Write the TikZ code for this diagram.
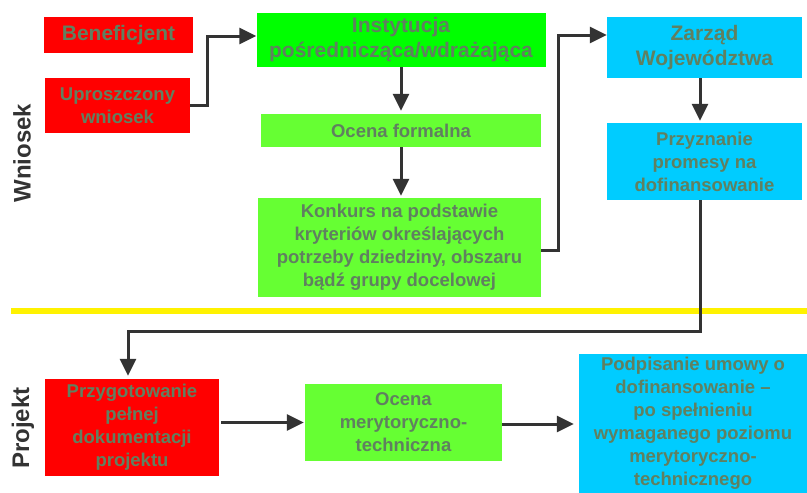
\documentclass[tikz,border=0pt]{standalone}
\usepackage{fontspec}
\setmainfont{Liberation Sans}
\usetikzlibrary{arrows.meta}
\definecolor{txtgreen}{RGB}{96,128,96}
\definecolor{arrgray}{RGB}{51,51,51}
\definecolor{boxred}{RGB}{255,0,0}
\definecolor{boxgreen}{RGB}{0,255,0}
\definecolor{boxlime}{RGB}{102,255,51}
\definecolor{boxcyan}{RGB}{0,204,255}
\begin{document}
\begin{tikzpicture}[x=1pt, y=-1pt,
    box/.style={inner sep=0pt, align=center, text=txtgreen, font=\fontsize{18.5}{23}\selectfont\bfseries},
    head/.style={box, font=\fontsize{21}{25}\selectfont\bfseries},
    side/.style={rotate=90, text=arrgray, font=\fontsize{24}{28}\selectfont\bfseries},
    arr/.style={draw=arrgray, line width=3pt, -{Triangle[length=17pt,width=16pt]}}]
    \useasboundingbox (0, 0) rectangle (807, 493);
    % Wniosek
    \node [head, fill=boxred, minimum width=149pt, minimum height=36pt] (benef) at (118.5, 35) {Beneficjent};
    \node [box, fill=boxred, minimum width=145pt, minimum height=55pt] (uproszcz) at (117.5, 105.5) {Uproszczony\\wniosek};
    \node [head, fill=boxgreen, minimum width=289pt, minimum height=54pt] (inst) at (401, 40) {Instytucja\\pośrednicząca/wdrażająca};
    \node [box, fill=boxlime, minimum width=280pt, minimum height=33pt] (ocenaf) at (401, 130.5) {Ocena formalna};
    \node [box, fill=boxlime, minimum width=283pt, minimum height=99pt] (konkurs) at (399.5, 247.5) {Konkurs na podstawie\\kryteriów określających\\potrzeby dziedziny, obszaru\\bądź grupy docelowej};
    \node [head, fill=boxcyan, minimum width=195pt, minimum height=61pt] (zarzad) at (704.5, 47.5) {Zarząd\\Województwa};
    \node [box, fill=boxcyan, minimum width=195pt, minimum height=77pt] (przyzn) at (704.5, 161.5) {Przyznanie\\promesy na\\dofinansowanie};
    % Projekt
    \node [box, fill=boxred, minimum width=174pt, minimum height=97pt] (przyg) at (132, 427.5) {Przygotowanie\\pełnej\\dokumentacji\\projektu};
    \node [box, fill=boxlime, minimum width=197pt, minimum height=77pt] (ocenam) at (403.5, 422.5) {Ocena\\merytoryczno-\\techniczna};
    \node [box, fill=boxcyan, minimum width=228pt, minimum height=139pt] (podp) at (693, 423.5) {Podpisanie umowy o\\dofinansowanie --\\po spełnieniu\\wymaganego poziomu\\merytoryczno-\\technicznego};
    \node [side] (wniosek) at (22, 153) {Wniosek};
    \node [side] (projekt) at (23, 428) {Projekt};
    % separator
    \coordinate (sepl) at (11, 311);
    \coordinate (sepr) at (807, 311);
    \draw [yellow, line width=5.5pt] (sepl) -- (sepr);
    % arrows
    \draw [arr] (uproszcz.east) -- ++(17, 0) |- ([yshift=4pt]inst.west);
    \draw [arr, shorten >=3pt] (inst.south) -- (inst.south |- ocenaf.north);
    \draw [arr, shorten >=2pt] (ocenaf.south) -- (ocenaf.south |- konkurs.north);
    \draw [arr] ([yshift=-3pt]konkurs.east) -- ++(17, 0) |- ([yshift=12.5pt]zarzad.west);
    \draw [arr, shorten >=2pt] ([xshift=-4.5pt]zarzad.south) -- ([xshift=-4.5pt]przyzn.north);
    \coordinate (bend) at (0, 331);
    \draw [arr, shorten >=3pt] ([xshift=-4.5pt]przyzn.south) -- ([xshift=-4.5pt]przyzn.south |- bend) -| ([xshift=-4pt]przyg.north);
    \draw [arr, shorten <=2pt, shorten >=1pt] (przyg.east |- ocenam.west) -- (ocenam.west);
    \draw [arr, shorten >=5pt] ([yshift=-1.5pt]ocenam.east) -- ([yshift=-1.5pt]ocenam.east -| podp.west);
\end{tikzpicture}
\end{document}
